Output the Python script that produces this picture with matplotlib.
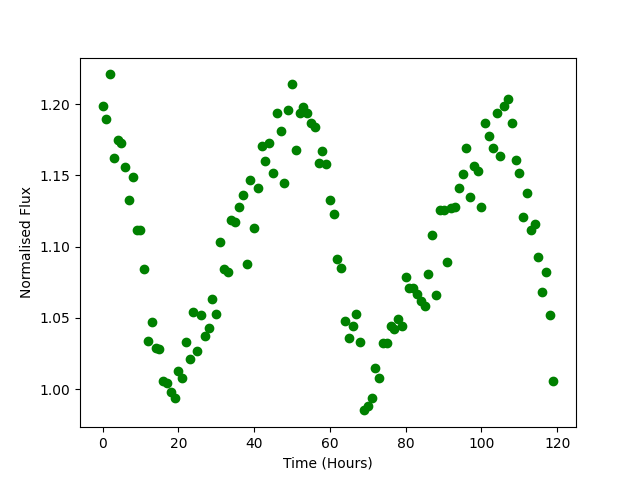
import matplotlib
matplotlib.use("Agg")
import matplotlib.pyplot as plt
import numpy as np

hours = list(range(120))
flux = [
    1.199, 1.190, 1.221, 1.162, 1.175, 1.173, 1.156, 1.133, 1.149, 1.112,
    1.112, 1.084, 1.034, 1.047, 1.029, 1.028, 1.006, 1.004, 0.998, 0.994,
    1.013, 1.008, 1.033, 1.021, 1.054, 1.027, 1.052, 1.037, 1.043, 1.063,
    1.053, 1.103, 1.084, 1.082, 1.119, 1.117, 1.128, 1.136, 1.088, 1.147,
    1.113, 1.141, 1.171, 1.160, 1.173, 1.152, 1.194, 1.181, 1.145, 1.196,
    1.214, 1.168, 1.194, 1.198, 1.194, 1.187, 1.184, 1.159, 1.167, 1.158,
    1.133, 1.123, 1.091, 1.085, 1.048, 1.036, 1.044, 1.053, 1.033, 0.985,
    0.988, 0.994, 1.015, 1.008, 1.032, 1.032, 1.044, 1.042, 1.049, 1.044,
    1.079, 1.071, 1.071, 1.067, 1.062, 1.058, 1.081, 1.108, 1.066, 1.126,
    1.126, 1.089, 1.127, 1.128, 1.141, 1.151, 1.169, 1.135, 1.157, 1.153,
    1.128, 1.187, 1.178, 1.169, 1.194, 1.164, 1.199, 1.204, 1.187, 1.161,
    1.152, 1.121, 1.138, 1.112, 1.116, 1.093, 1.068, 1.082, 1.052, 1.006,
]

fig, ax = plt.subplots(figsize=(6.4, 4.8), dpi=100)
ax.plot(hours, flux, 'o', color='green')
ax.set_xlabel('Time (Hours)')
ax.set_ylabel('Normalised Flux')
fig.savefig('out.png')
